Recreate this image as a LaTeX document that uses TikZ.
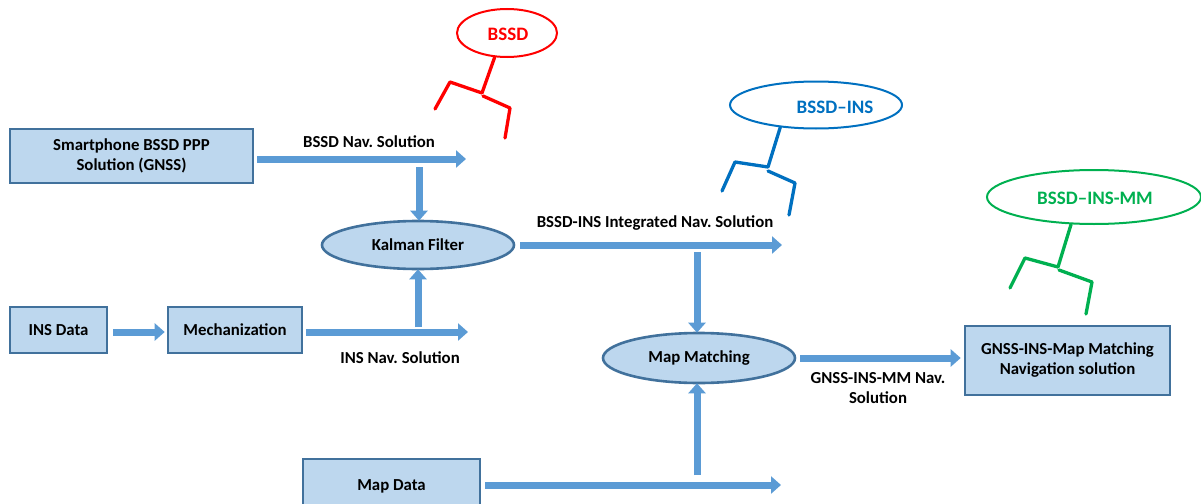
\documentclass[tikz,border=0pt]{standalone}
\usepackage{fontspec}
\setmainfont{Carlito}
\usetikzlibrary{arrows.meta,shapes.geometric}
\definecolor{boxfill}{HTML}{BDD7EE}
\definecolor{boxdraw}{HTML}{41719C}
\definecolor{arr}{HTML}{5B9BD5}
\definecolor{bred}{HTML}{FF0000}
\definecolor{bblue}{HTML}{0070C0}
\definecolor{bgreen}{HTML}{00B050}
\frenchspacing
\begin{document}
\begin{tikzpicture}[x=1pt,y=-1pt,
  lbl/.style={font=\bfseries\fontsize{16.8}{20}\selectfont, align=center, inner sep=0pt},
  box/.style={lbl, rectangle, draw=boxdraw, line width=2.6pt, fill=boxfill},
  oval/.style={lbl, ellipse, draw=boxdraw, line width=2.6pt, fill=boxfill, inner sep=0pt},
  blk/.style={draw=arr, line width=7pt, -{Triangle[width=17pt,length=10pt]}},
  bubble/.style={ellipse, line width=2pt, inner sep=0pt},
  btext/.style={font=\bfseries\fontsize{19}{22}\selectfont, inner sep=0pt},
  brace/.style={line width=3.3pt, line join=round, line cap=round}]
\useasboundingbox (0,0) rectangle (1201,503);

% boxes and ovals
\node[box, minimum width=243pt, minimum height=54pt] (gnss) at (131.5,156) {Smartphone BSSD PPP\\Solution (GNSS)};
\node[box, minimum width=97pt, minimum height=46pt] (insdata) at (58.5,330) {INS Data};
\node[box, minimum width=134pt, minimum height=46pt] (mech) at (235,330) {Mechanization};
\node[oval, minimum width=192pt, minimum height=48pt] (kf) at (418,245) {Kalman Filter};
\node[oval, minimum width=192pt, minimum height=50pt] (mm) at (699,358) {Map Matching};
\node[box, minimum width=205pt, minimum height=69pt] (out) at (1067.5,360.5) {GNSS-INS-Map Matching\\Navigation solution};
\node[box, minimum width=177pt, minimum height=54pt] (mapdata) at (391.5,486) {Map Data};

% free ends
\coordinate (e1) at (466,159);
\coordinate (s2) at (419,167);
\coordinate (e3) at (782,245);
\coordinate (s4) at (697,252);
\coordinate (e6) at (468,332);
\coordinate (s7) at (418,327);
\coordinate (e9) at (781,485);
\coordinate (s10) at (697,475);

% arrows
\draw[blk] ([xshift=3pt]gnss.east |- e1) -- (e1);
\draw[blk] (s2) -- ([yshift=-1pt]s2 |- kf.north);
\draw[blk] ([xshift=5pt]kf.east) -- (e3);
\draw[blk] (s4) -- ([yshift=-1pt]s4 |- mm.north);
\draw[blk] ([xshift=5pt]insdata.east |- e6) -- ([xshift=-2pt]mech.west |- e6);
\draw[blk] ([xshift=3pt]mech.east |- e6) -- (e6);
\draw[blk] (s7) -- ([yshift=1pt]s7 |- kf.south);
\draw[blk] ([xshift=4pt]mm.east) -- ([xshift=-3pt]out.west |- mm.east);
\draw[blk] ([xshift=4pt]mapdata.east |- e9) -- (e9);
\draw[blk] (s10) -- ([yshift=1pt]s10 |- mm.south);

% arrow labels
\node[lbl] (l1) at (369,142) {BSSD Nav. Solution};
\node[lbl] (l3) at (655,223) {BSSD-INS Integrated Nav. Solution};
\node[lbl] (l6) at (400,358) {INS Nav. Solution};
\node[lbl] (l8) at (878,388) {GNSS-INS-MM Nav.\\Solution};

% speech bubbles
\node[bubble, draw=bred, minimum width=100pt, minimum height=48pt] (b1) at (507,33) {};
\node[btext, text=bred] (b1t) at (508,34) {BSSD};
\draw[brace, bred] (b1.243) -- (482,93) -- (450,82) -- (435,109);
\draw[brace, bred] (483,96) -- (510,108) -- (505,138);

\node[bubble, draw=bblue, minimum width=172pt, minimum height=47pt] (b2) at (816,105) {};
\node[btext, text=bblue] (b2t) at (835,107) {BSSD--INS};
\draw[brace, bblue] (b2.212) -- (768,167) -- (735,162) -- (722,191);
\draw[brace, bblue] (768,171) -- (795,183) -- (789,215);

\node[bubble, draw=bgreen, minimum width=214pt, minimum height=54pt] (b3) at (1094,197) {};
\node[btext, text=bgreen] (b3t) at (1095,198) {BSSD--INS-MM};
\draw[brace, bgreen] (b3.230) -- (1058,267) -- (1025,258) -- (1010,288);
\draw[brace, bgreen] (1059,270) -- (1092,282) -- (1086,314);
\end{tikzpicture}
\end{document}
